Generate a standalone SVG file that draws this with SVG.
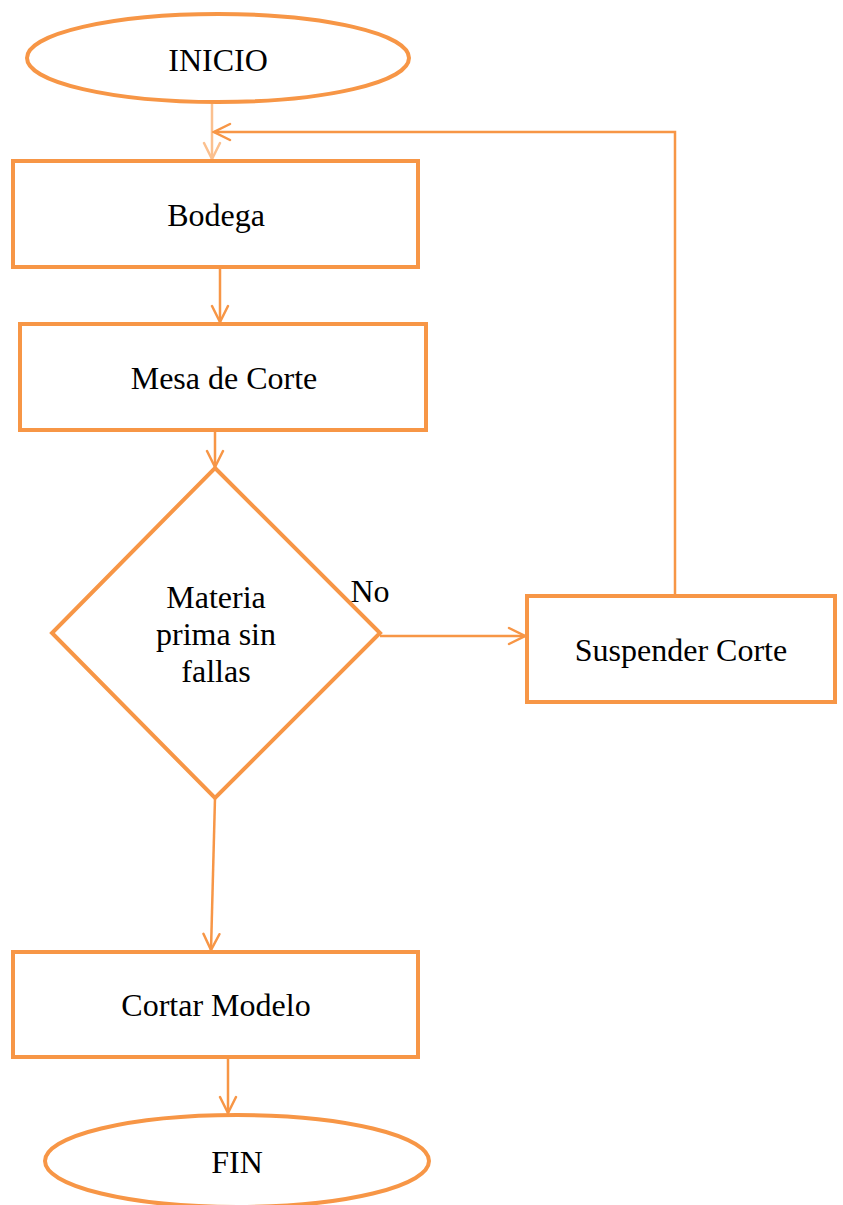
<svg xmlns="http://www.w3.org/2000/svg" width="843" height="1205" viewBox="0 0 843 1205">
  <style>
    .shape { fill: #ffffff; stroke: #F79646; stroke-width: 4; }
    .lbl { font-family: "Liberation Serif", "Times New Roman", serif; font-size: 32px; fill: #000000; text-anchor: middle; }
    .edge { fill: none; stroke: #F79646; stroke-width: 2.5; }
    .edge-light { fill: none; stroke: #FBC08F; stroke-width: 2.5; }
  </style>
  <defs>
    <marker id="open" viewBox="0 0 20 20" refX="18" refY="10" markerWidth="20" markerHeight="20" markerUnits="userSpaceOnUse" orient="auto">
      <path d="M2,2 L18,10 L2,18" fill="none" stroke="#F79646" stroke-width="2.5" stroke-linecap="round"/>
    </marker>
    <marker id="open-light" viewBox="0 0 20 20" refX="18" refY="10" markerWidth="20" markerHeight="20" markerUnits="userSpaceOnUse" orient="auto">
      <path d="M2,2 L18,10 L2,18" fill="none" stroke="#FBC08F" stroke-width="2.5" stroke-linecap="round"/>
    </marker>
  </defs>

  <!-- branch label drawn first so the box below covers it -->
  <text class="lbl" x="306" y="971.5" style="text-anchor:start">Si</text>

  <g id="connectors">
    <path class="edge-light" d="M212,102 L212,159" marker-end="url(#open-light)"/>
    <path class="edge" d="M675,595 L675,132 L214,132" marker-end="url(#open)"/>
    <path class="edge" d="M220,268 L220,322" marker-end="url(#open)"/>
    <path class="edge" d="M215,431 L215,467" marker-end="url(#open)"/>
    <path class="edge" d="M380,636 L525,636" marker-end="url(#open)"/>
    <path class="edge" d="M215,798 L211,950" marker-end="url(#open)"/>
    <path class="edge" d="M228,1058 L228,1113" marker-end="url(#open)"/>
  </g>

  <g id="inicio">
    <ellipse class="shape" cx="218" cy="58" rx="191" ry="44"/>
    <text class="lbl" x="218" y="71">INICIO</text>
  </g>

  <g id="bodega">
    <rect class="shape" x="13" y="161" width="405" height="106"/>
    <text class="lbl" x="216" y="226">Bodega</text>
  </g>

  <g id="mesa-corte">
    <rect class="shape" x="20" y="324" width="406" height="106"/>
    <text class="lbl" x="224" y="389">Mesa de Corte</text>
  </g>

  <g id="decision">
    <polygon class="shape" points="215,468 380,633 215,798 52,633"/>
    <text class="lbl" x="216" y="608">Materia</text>
    <text class="lbl" x="216" y="645">prima sin</text>
    <text class="lbl" x="216" y="682">fallas</text>
    <text class="lbl" x="370" y="602">No</text>
  </g>

  <g id="suspender">
    <rect class="shape" x="527" y="596" width="308" height="106"/>
    <text class="lbl" x="681" y="661">Suspender Corte</text>
  </g>

  <g id="cortar">
    <rect class="shape" x="13" y="952" width="405" height="105"/>
    <text class="lbl" x="216" y="1016">Cortar Modelo</text>
  </g>

  <g id="fin">
    <ellipse class="shape" cx="237" cy="1161" rx="192" ry="46"/>
    <text class="lbl" x="237" y="1173">FIN</text>
  </g>
</svg>
